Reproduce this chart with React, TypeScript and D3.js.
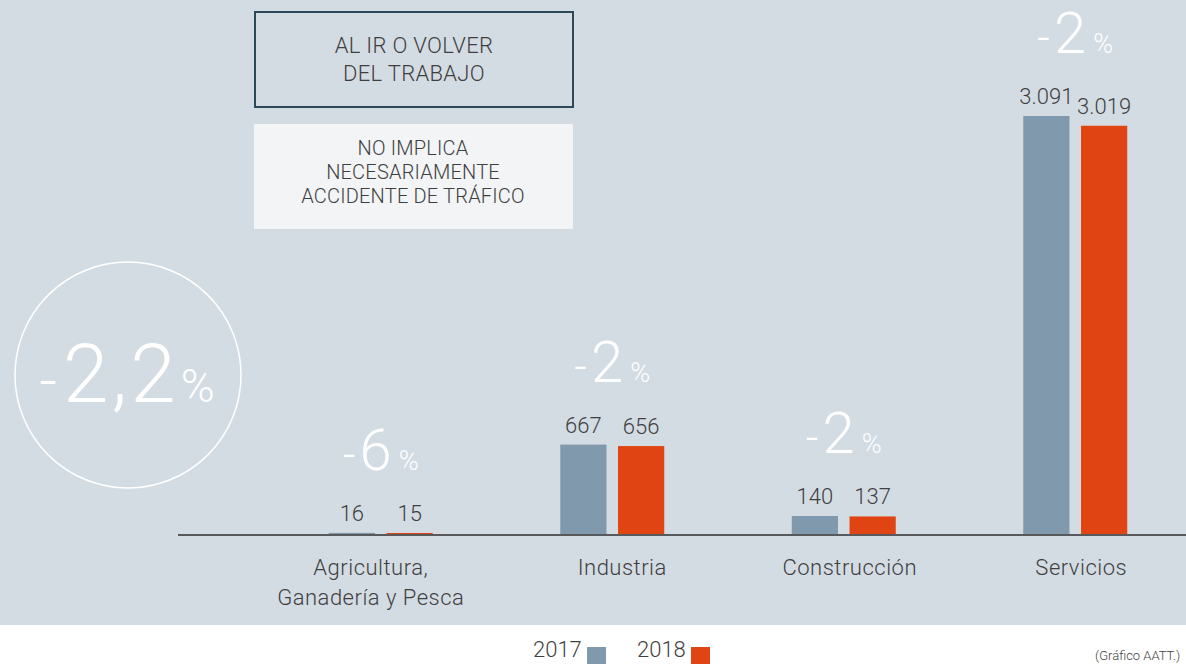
import React from 'react';
import * as d3 from 'd3';

// data
const categories = ['Agricultura', 'Industria', 'Construcción', 'Servicios'];
const categoryLines = [['Agricultura,', 'Ganadería y Pesca'], ['Industria'], ['Construcción'], ['Servicios']];
const years = ['2017', '2018'];
const values2017 = [16, 667, 140, 3091];
const values2018 = [15, 656, 137, 3019];
const changes = ['6', '2', '2', '2'];
const totalChange = ['2', ',', '2'];
const boxTop = ['AL IR O VOLVER', 'DEL TRABAJO'];
const boxBottom = ['NO IMPLICA', 'NECESARIAMENTE', 'ACCIDENTE DE TRÁFICO'];
const source = '(Gráfico AATT.)';

const W = 1186;
const H = 664;
const FONT = 'Roboto, "DejaVu Sans", sans-serif';
const BG = '#d4dce3';
const C2017 = '#8199ad';
const C2018 = '#e04412';
const TXT = '#3f3f3f';

const fmt = (v: number) => d3.format(',')(v).replace(/,/g, '.');

export default function App() {
  const baseY = 535;
  const x = d3.scaleBand<string>().domain(categories).range([265, 1191]).padding(0);
  const xSub = d3.scaleBand<string>().domain(years).range([-52, 52]).paddingInner(0.2);
  const maxV = d3.max(values2017) as number;
  const y = d3.scaleLinear().domain([0, maxV]).range([baseY, 116]);
  const colors = d3.scaleOrdinal<string, string>().domain(years).range([C2017, C2018]);
  const series = [values2017, values2018];

  return (
    <svg width={W} height={H} style={{ position: 'absolute', left: 0, top: 0 }} fontFamily={FONT}>
      <rect x={0} y={0} width={W} height={625} fill={BG} />
      <rect x={0} y={625} width={W} height={H - 625} fill="#ffffff" />

      {/* info boxes */}
      <rect x={255} y={12} width={318} height={95} fill="none" stroke="#2d4858" strokeWidth={2} />
      {boxTop.map((t, i) => (
        <text key={t} x={414} y={53 + i * 28} textAnchor="middle" fontSize={22} fontWeight={300} letterSpacing={0.3} fill={TXT}>{t}</text>
      ))}
      <rect x={254} y={124} width={319} height={105} fill="#f2f4f6" />
      {boxBottom.map((t, i) => (
        <text key={t} x={413} y={155 + i * 24} textAnchor="middle" fontSize={20} fontWeight={300} letterSpacing={0.2} fill={TXT}>{t}</text>
      ))}

      {/* total circle */}
      <circle cx={128} cy={375} r={113} fill="none" stroke="#ffffff" strokeWidth={1.5} />
      <text x={127} y={402} textAnchor="middle" fill="#ffffff" fontWeight={300}>
        <tspan fontSize={62}>-</tspan>
        <tspan fontSize={82} dx={6} letterSpacing={3}>{totalChange.join('')}</tspan>
        <tspan fontSize={46} dx={2}>%</tspan>
      </text>

      {/* bars */}
      {categories.map((c, i) => {
        const cx = (x(c) as number) + x.bandwidth() / 2;
        const topY = Math.min(y(values2017[i]), y(values2018[i]));
        return (
          <g key={c}>
            {years.map((yr, j) => {
              const v = series[j][i];
              const bx = cx + (xSub(yr) as number);
              return (
                <g key={yr}>
                  <rect x={bx} y={y(v)} width={xSub.bandwidth()} height={baseY - y(v)} fill={colors(yr)} />
                  <text x={bx + xSub.bandwidth() / 2} y={y(v) - 12} textAnchor="middle" fontSize={22} fontWeight={300} fill={TXT}>
                    {fmt(v)}
                  </text>
                </g>
              );
            })}
            <text x={cx} y={topY - 63} textAnchor="middle" fill="#ffffff" fontWeight={300}>
              <tspan fontSize={44}>-</tspan>
              <tspan fontSize={58} dx={4}>{changes[i]}</tspan>
              <tspan fontSize={27} dx={7}>%</tspan>
            </text>
            {categoryLines[i].map((l, k) => (
              <text key={l} x={cx + (i === 0 ? -10 : i === 1 ? 10 : 6)} y={575 + k * 30} textAnchor="middle" fontSize={22} fontWeight={300} letterSpacing={0.5} fill={TXT}>{l}</text>
            ))}
          </g>
        );
      })}

      <line x1={178} x2={W} y1={baseY} y2={baseY} stroke="#58595b" strokeWidth={2} />

      {/* legend */}
      {years.map((yr, j) => (
        <g key={yr} transform={`translate(${533 + j * 104},0)`}>
          <text x={0} y={657} fontSize={22} fontWeight={300} fill={TXT}>{yr}</text>
          <rect x={54} y={647} width={19} height={17} fill={colors(yr)} />
        </g>
      ))}
      <text x={1095} y={660} fontSize={13} fontWeight={300} fill={TXT}>{source}</text>
    </svg>
  );
}
